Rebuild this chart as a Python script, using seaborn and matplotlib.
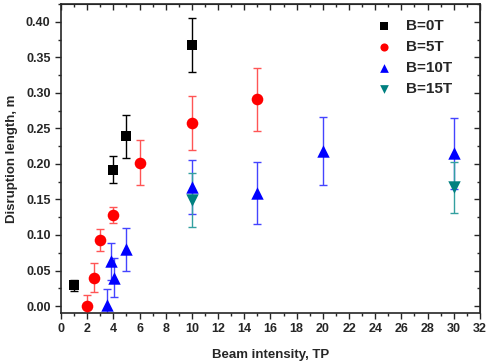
import numpy as np
import pandas as pd
import matplotlib
matplotlib.use("Agg")
import matplotlib.pyplot as plt
import seaborn as sns
from matplotlib.ticker import MultipleLocator

# ── Données ─────────────────────────────────────────────────
b0_x = [1, 4, 5, 10]
b0_y = [0.029, 0.192, 0.239, 0.368]
b0_err = [0.008, 0.019, 0.030, 0.038]

b5_x = [2, 2.5, 3, 4, 6, 10, 15]
b5_y = [0.000, 0.040, 0.093, 0.128, 0.202, 0.258, 0.291]
b5_err = [0.016, 0.020, 0.016, 0.011, 0.032, 0.038, 0.044]

b10_x = [3.5, 3.8, 4.05, 5, 10, 15, 20, 30]
b10_y = [0.001, 0.063, 0.040, 0.080, 0.168, 0.159, 0.218, 0.215]
b10_err = [0.023, 0.026, 0.027, 0.030, 0.038, 0.044, 0.048, 0.050]

b15_x = [10, 30]
b15_y = [0.149, 0.167]
b15_err = [0.038, 0.036]

series = [
    ("B=0T", b0_x, b0_y, b0_err, "s", "#000000", "#000000", 55),
    ("B=5T", b5_x, b5_y, b5_err, "o", "#FF0000", "#FF5555", 70),
    ("B=10T", b10_x, b10_y, b10_err, "^", "#0000FF", "#4444FF", 80),
    ("B=15T", b15_x, b15_y, b15_err, "v", "#008080", "#33A0A0", 80),
]

# ── Figure ──────────────────────────────────────────────────
sns.set_style("ticks")
plt.rcParams["font.family"] = ["Liberation Sans", "DejaVu Sans"]
plt.rcParams["font.weight"] = "bold"

fig = plt.figure(figsize=(4.86, 3.64), dpi=100)
ax = fig.add_axes([0.1255, 0.140, 0.862, 0.849])

for label, x, y, err, mk, col, ecol, size in series:
    ax.errorbar(x, y, yerr=err, fmt="none", ecolor=ecol, elinewidth=1.0,
                capsize=3, capthick=1.0, zorder=2)
    df = pd.DataFrame({"x": x, "y": y})
    sns.scatterplot(data=df, x="x", y="y", marker=mk, color=col, s=size,
                    edgecolor=col, linewidth=0, label=label, ax=ax, zorder=3)

ax.set_xlim(0, 32)
ax.set_ylim(-0.0098, 0.425)
ax.xaxis.set_major_locator(MultipleLocator(2))
ax.xaxis.set_minor_locator(MultipleLocator(1))
ax.yaxis.set_major_locator(MultipleLocator(0.05))
ax.yaxis.set_minor_locator(MultipleLocator(0.025))
ax.yaxis.set_major_formatter(plt.FormatStrFormatter("%.2f"))

ax.tick_params(which="major", direction="out", length=4, width=1, labelsize=9)
ax.tick_params(which="minor", direction="out", length=2, width=1)
for lab in ax.get_xticklabels() + ax.get_yticklabels():
    lab.set_fontweight("bold")

# graduations intérieures en haut et à droite (style Origin)
top = ax.secondary_xaxis("top")
top.xaxis.set_major_locator(MultipleLocator(2))
top.xaxis.set_minor_locator(MultipleLocator(1))
top.tick_params(which="major", direction="in", length=4, width=1, labeltop=False)
top.tick_params(which="minor", direction="in", length=2, width=1)
right = ax.secondary_yaxis("right")
right.yaxis.set_major_locator(MultipleLocator(0.05))
right.yaxis.set_minor_locator(MultipleLocator(0.025))
right.tick_params(which="major", direction="in", length=4, width=1, labelright=False)
right.tick_params(which="minor", direction="in", length=2, width=1)

for sp in ax.spines.values():
    sp.set_linewidth(1.2)
    sp.set_visible(True)

ax.set_xlabel("Beam intensity, TP", fontsize=9.5, fontweight="bold", labelpad=10)
ax.set_ylabel("Disruption length, m", fontsize=9.5, fontweight="bold", labelpad=6)

leg = ax.legend(loc="upper right", frameon=False, fontsize=11, markerscale=0.7,
                handletextpad=0.45, labelspacing=0.45, borderaxespad=0.6,
                bbox_to_anchor=(0.97, 1.0))
for t in leg.get_texts():
    t.set_fontweight("bold")

fig.savefig("out.png", dpi=100)
plt.close()
